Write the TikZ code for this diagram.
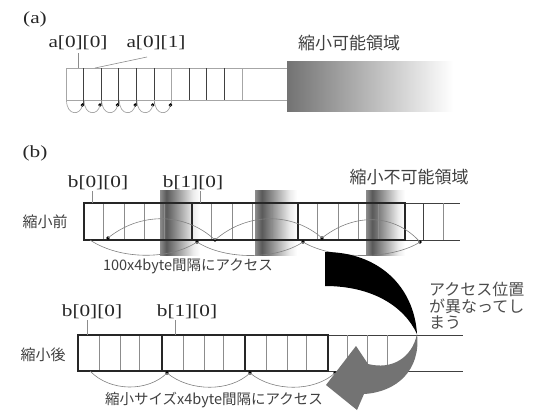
\documentclass[tikz,border=0pt]{standalone}
\usepackage{fontspec}
\setmainfont{Liberation Serif}
\newfontfamily\jp{Noto Sans CJK JP}
\usetikzlibrary{arrows.meta}
\pgfdeclarehorizontalshading{fadeA}{100bp}{color(0bp)=(black!55); color(25bp)=(black!55); color(68bp)=(white); color(100bp)=(white)}
\pgfdeclarehorizontalshading{cyl}{100bp}{color(0bp)=(black!45); color(25bp)=(black!45); color(33bp)=(black!65); color(66bp)=(black!8); color(75bp)=(white); color(100bp)=(white)}
\newcommand\hsx[1]{\scalebox{1.25}[1]{#1}}
\begin{document}
\begin{tikzpicture}[x=1pt,y=-1pt,
  lbl/.style={inner sep=0pt,text=black!85,font=\fontsize{17}{17}\selectfont},
  jpl/.style={inner sep=0pt,text=black!75,font=\jp\fontsize{17}{17}\selectfont},
  jpm/.style={inner sep=0pt,text=black!75,font=\jp\fontsize{15}{15}\selectfont},
  jps/.style={inner sep=0pt,text=black!75,font=\jp\fontsize{14.5}{14.5}\selectfont},
  jpn/.style={inner sep=0pt,text=black!70,font=\jp\fontsize{16}{16}\selectfont},
  light/.style={draw=black!35,line width=0.7pt},
  cellln/.style={draw=black!45,line width=0.8pt},
  darkln/.style={draw=black!75,line width=1pt},
  boxln/.style={draw=black!85,line width=1.3pt},
  leader/.style={draw=black!45,line width=0.6pt},
  arcln/.style={draw=black!50,line width=0.6pt},
  dotm/.style={circle,fill=black,inner sep=0pt,minimum size=3.8pt}]
\useasboundingbox (0,0) rectangle (535,410);

% ---------------- (a)
\node[lbl] (la) at (35,19) {\hsx{(a)}};
\node[lbl] (a00) at (78,43) {\hsx{a[0][0]}};
\node[lbl] (a01) at (156,43) {\hsx{a[0][1]}};
\node[jpl] (ra) at (349,43) {縮小可能領域};
\fill[shading=fadeA] (287,61) rectangle (480,111);
\draw[light] (287,68) -- (66,68) -- (66,100) -- (287,100);
\coordinate (ta0) at (78,68);
\coordinate (ta1) at (95,68);
\draw[leader] (78,53) -- (ta0);
\draw[leader] (147,57) -- (ta1);
\foreach \k in {1,...,5}{
  \draw[darkln] ({66+17.6*\k},68) -- ({66+17.6*\k},104);
}
\draw[light] ({66+17.6*6},68) -- ({66+17.6*6},104);
\foreach \k in {7,8,9}{
  \draw[darkln] ({66+17.6*\k},68) -- ({66+17.6*\k},100);
}
\draw[light] ({66+17.6*10},68) -- ({66+17.6*10},100);
\foreach \k in {1,...,6}{
  \node[dotm] (ad\k) at ({66+17.6*\k-1.2},105) {};
  \draw[light] ({66+17.6*(\k-1)+0.5},100) .. controls ({66+17.6*(\k-1)+0.5},116) and ({66+17.6*\k-3},116) .. (ad\k.center);
}

% ---------------- (b) before
\node[lbl] (lb) at (35,153) {\hsx{(b)}};
\node[lbl] (b00) at (98,183) {\hsx{b[0][0]}};
\node[lbl] (b10) at (193,183) {\hsx{b[1][0]}};
\node[jpl] (rb) at (409,177) {縮小不可能領域};
\node[jpm] (before) at (45,222) {縮小前};
\node[jps] (t1) at (188,266) {100x4byte間隔にアクセス};

\fill[shading=cyl] (160,190) rectangle (200,255);
\fill[shading=cyl] (255,190) rectangle (297,255);
\fill[shading=cyl] (366,190) rectangle (405,255);

\draw[darkln] (84,203) -- (460,203);
\draw[darkln] (84,240) -- (460,240);
\foreach \s in {84,192,298}{
  \foreach \o in {19,40,60,80}{
    \draw[cellln] ({\s+\o},203) -- ({\s+\o},240);
  }
}
\draw[boxln] (84,203) rectangle (192,240);
\draw[boxln] (192,203) rectangle (298,240);
\draw[boxln] (298,203) rectangle (405,240);
\draw[darkln] (423,203) -- (423,240);
\draw[cellln] (443,203) -- (443,240);

\coordinate (tb0) at (92,203);
\coordinate (tb1) at (200,203);
\draw[leader] (92,191) -- (tb0);
\draw[leader] (200,191) -- (tb1);

\node[dotm] (p1) at (108,238) {};
\node[dotm] (q1) at (197,242) {};
\node[dotm] (p2) at (215,240) {};
\node[dotm] (q2) at (303,242) {};
\node[dotm] (p3) at (322,238) {};
\node[dotm] (q3) at (420,242) {};
\coordinate (q0) at (90,240);
\draw[arcln] (q0) .. controls (120,260) and (170,260) .. (q1.center);
\draw[arcln] (q1.center) .. controls (225,260) and (276,260) .. (q2.center);
\draw[arcln] (q2.center) .. controls (333,260) and (392,260) .. (q3.center);
\draw[arcln] (p1.center) .. controls (140,212) and (185,212) .. (p2.center);
\draw[arcln] (p2.center) .. controls (247,212) and (292,212) .. (p3.center);
\draw[arcln] (p3.center) .. controls (355,212) and (395,214) .. (q3.center);

% ---------------- (b) after
\node[lbl] (c00) at (92,312) {\hsx{b[0][0]}};
\node[lbl] (c10) at (187,312) {\hsx{b[1][0]}};
\node[jpm] (after) at (43,355) {縮小後};
\node[jps] (t2) at (214,400) {縮小サイズx4byte間隔にアクセス};

\draw[darkln] (78,335) -- (463,335);
\draw[darkln] (78,371) -- (463,371);
\foreach \s in {78,162,245}{
  \foreach \o in {21,42,61}{
    \draw[cellln] ({\s+\o},335) -- ({\s+\o},371);
  }
}
\foreach \x in {347,367,387}{
  \draw[cellln] (\x,335) -- (\x,371);
}
\draw[boxln] (78,335) rectangle (162,371);
\draw[boxln] (162,335) rectangle (245,371);
\draw[boxln] (245,335) rectangle (328,371);

\coordinate (tc0) at (87,335);
\coordinate (tc1) at (175,335);
\draw[leader] (87,320) -- (tc0);
\draw[leader] (175,320) -- (tc1);

\coordinate (r0) at (90,371);
\node[dotm] (r1) at (167,373) {};
\node[dotm] (r2) at (250,373) {};
\node[dotm] (r3) at (335,373) {};
\draw[arcln] (r0) .. controls (110,392) and (148,392) .. (r1.center);
\draw[arcln] (r1.center) .. controls (190,392) and (230,392) .. (r2.center);
\draw[arcln] (r2.center) .. controls (273,392) and (314,392) .. (r3.center);

% ---------------- big twisted arrow
\fill[black] (325,252) .. controls (378,252) and (414,286) .. (417,334)
   .. controls (404,306) and (372,286) .. (325,286) -- cycle;
\fill[black!55] (417,334) .. controls (412,358) and (392,370) .. (368,364)
   -- (356,346) -- (326,385) -- (357,410) -- (364,394)
   .. controls (397,392) and (421,370) .. (417,334) -- cycle;

\node[jpn,align=left,anchor=west,font=\jp\fontsize{16}{16.5}\selectfont] (t3) at (429,306) {アクセス位置\\が異なってし\\まう};
\end{tikzpicture}
\end{document}
